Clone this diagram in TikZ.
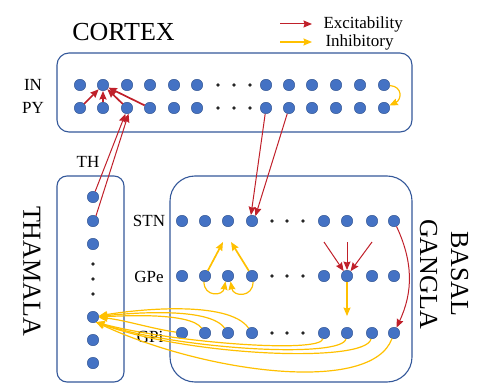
\documentclass[tikz,border=0pt]{standalone}
\usepackage{fontspec}
\setmainfont{Liberation Serif}
\usetikzlibrary{arrows.meta, positioning, calc}
\definecolor{dotblue}{HTML}{4472C4}
\definecolor{dotedge}{HTML}{2F528F}
\definecolor{boxblue}{HTML}{34589A}
\definecolor{excred}{HTML}{C0202A}
\definecolor{inhyel}{HTML}{FFC000}

\begin{document}
\begin{tikzpicture}[x=1pt, y=1pt,
    neuron/.style={circle, fill=dotblue, draw=dotedge, line width=0.4pt, minimum size=11.5pt, inner sep=0pt},
    gapdot/.style={circle, fill=black!85, minimum size=3.6pt, inner sep=0pt},
    region/.style={draw=boxblue, line width=1.1pt},
    exc/.style={-{Stealth[length=8.5pt, width=7pt, inset=1pt]}, excred, line width=1pt},
    inh/.style={-{Stealth[length=8.5pt, width=7pt, inset=1pt]}, inhyel, line width=1.2pt},
    lab/.style={font=\fontsize{17}{19}\selectfont},
    big/.style={font=\fontsize{26}{31}\selectfont},
]
  \useasboundingbox (0,0) rectangle (484,-390);

  \draw[region, rounded corners=12pt] (57,-53) rectangle (412,-132);
  \draw[region, rounded corners=10pt] (57,-176) rectangle (124,-382);
  \draw[region, rounded corners=25pt] (170,-176) rectangle (412,-382);

  % legend
  \node[lab, anchor=west] (lgexc) at (320,-24) {Excitability};
  \node[lab, anchor=west] (lginh) at (322,-42) {Inhibitory};
  \draw[exc] ([xshift=-40pt]lgexc.west) -- ([xshift=-8pt]lgexc.west);
  \draw[inh] ([xshift=-42pt]lginh.west) -- ([xshift=-10pt]lginh.west);

  \node[big] (cortex) at (123.5,-32) {CORTEX};
  \node[lab] (inlab) at (33,-85) {IN};
  \node[lab] (pylab) at (33,-108) {PY};
  \foreach \i/\x in {0/80,1/103,2/127,3/150,4/174,5/197,6/266,7/289,8/312,9/336,10/360,11/384} {
      \node[neuron] (in\i) at (\x,-85) {};
      \node[neuron] (py\i) at (\x,-108) {};
  }
  \foreach \x in {218,234,250} {
      \node[gapdot] (ingap\x) at (\x,-85) {};
      \node[gapdot] (pygap\x) at (\x,-108) {};
  }

  \node[lab] (thlab) at (88,-162) {TH};
  \node[big, rotate=-90] (thamala) at (32,-271) {THAMALA};
  \foreach \i/\y in {0/197,1/221,2/244,3/317,4/340,5/363}
      \node[neuron] (th\i) at (93,-\y) {};
  \foreach \y in {264,279,294}
      \node[gapdot] (thgap\y) at (93,-\y) {};

  \node[lab] (stnlab) at (149,-221) {STN};
  \node[lab] (gpelab) at (149,-277) {GPe};
  \node[lab] (gpilab) at (150,-337) {GPi};
  \node[big, rotate=-90, align=center] (basal) at (444,-274) {BASAL\\GANGLA};
  \foreach \i/\x in {0/182,1/205,2/228,3/252,4/324,5/347,6/372,7/394} {
      \node[neuron] (stn\i) at (\x,-221) {};
      \node[neuron] (gpe\i) at (\x,-276) {};
      \node[neuron] (gpi\i) at (\x,-333) {};
  }
  \foreach \x in {272,287,303} {
      \node[gapdot] (stngap\x) at (\x,-221) {};
      \node[gapdot] (gpegap\x) at (\x,-276) {};
      \node[gapdot] (gpigap\x) at (\x,-333) {};
  }

  % cortex
  \foreach \j in {0,...,3}
      \draw[exc, line width=1.7pt] (py\j) -- (in1);
  \draw[inh] (in11) to[out=-5, in=25, looseness=1.7] (py11);

  % thalamus <-> cortex <-> STN
  \draw[exc] (th0) -- (py2.-105);
  \draw[exc] (th1.60) -- (py2.-75);
  \draw[exc] (py6) -- (stn3.100);
  \draw[exc] (py7) -- (stn3.55);

  % GPe
  \coordinate (stnl) at (223,-242);
  \coordinate (stnr) at (231,-242);
  \draw[inh, line width=1.7pt] (gpe1) -- (stnl);
  \draw[inh, line width=1.7pt] (gpe3) -- (stnr);
  \draw[inh] (gpe1.-100) to[out=-90, in=-100, looseness=1.8] (gpe2.-115);
  \draw[inh] (gpe3.-80) to[out=-90, in=-80, looseness=1.8] (gpe2.-65);
  \foreach \n/\x in {a/324,b/347,c/372} {
      \coordinate (drive\n) at (\x,-242);
      \draw[exc] (drive\n) -- (gpe5);
  }
  \draw[inh, shorten >=11pt] (gpe5) -- (gpi5);
  \draw[exc] (stn7) to[bend left=25] (gpi7);

  % GPi -> thalamus
  \draw[inh] (gpi0) to[out=172, in=-5, looseness=0.8] (th3);
  \foreach \k/\a/\l in {1/2/0.5, 2/6/0.55, 3/10/0.6}
      \draw[inh] (gpi\k) to[out=125, in=\a, looseness=\l] (th3);
  \foreach \k/\a/\od/\id in {4/-15/15/80, 5/-18/20/90, 6/-20/25/100}
      \draw[inh] (gpi\k) to[out=-100, out distance=\od, in=\a, in distance=\id] (th3.-60);
  \draw[inh] (gpi7) to[out=-110, out distance=60, in=-25, in distance=120] (th3.-60);
\end{tikzpicture}
\end{document}
